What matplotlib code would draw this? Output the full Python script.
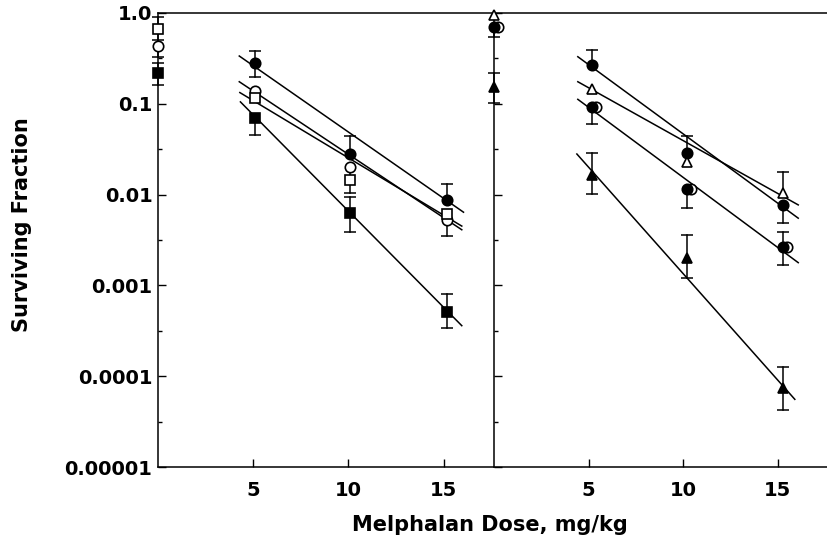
# Surviving fraction vs melphalan dose, two panels
import numpy as np
import matplotlib.pyplot as plt
from matplotlib.ticker import FixedLocator, NullFormatter
import matplotlib.transforms as mtransforms

plt.rcParams['font.family'] = ['DejaVu Sans']
plt.rcParams['font.weight'] = 'bold'

# ---- data ----
ctrl_dose = [0]
dose_left = [5.1, 10.1, 15.2]
dose_right = [5.2, 10.2, 15.3]

# left panel
l_fc = [0.279, 0.028, 0.0087]
l_fc_hi = [0.384, 0.0446, 0.0131]
l_fc_lo = [0.196, None, None]

l_oc_ctrl = [0.43]
l_oc = [0.139, 0.0203, 0.0052]
l_oc_lo = [None, 0.0103, 0.0035]

l_os_ctrl = [0.66]
l_os = [0.115, 0.0145, 0.0061]

l_fs_ctrl = [0.22]
l_fs = [0.069, 0.0063, 0.00051]
l_fs_hi = [None, 0.0095, 0.0008]
l_fs_lo = [0.045, 0.0039, 0.00034]

ctrl_left_hi = [0.91, 0.28]   # open square, filled square
ctrl_left_lo = [0.50, 0.33, 0.16]   # open square, open circle, filled square

# left fitted lines (start / end)
fit_left_x = [[4.27, 16.05], [4.27, 15.96], [4.30, 15.96], [4.33, 15.96]]
fit_left_y = [[0.336, 0.0064], [0.175, 0.0041], [0.133, 0.0045], [0.105, 0.00036]]

# right panel
r_fc = [0.268, 0.029, 0.0077]
r_fc_hi = [0.391, 0.044, None]
r_fc_lo = [None, None, 0.0049]

r_ot_ctrl = [0.95]
r_ot = [0.144, 0.0227, 0.0105]
r_ot_hi = [None, None, 0.0179]

r_cc_ctrl = [0.71]
r_cc = [0.0915, 0.0114, 0.00267]
r_cc_hi = [None, None, 0.00385]
r_cc_lo = [0.06, 0.0071, 0.00168]

r_ft_ctrl = [0.152]
r_ft = [0.0164, 0.00199, 0.0000735]
r_ft_hi = [0.029, 0.0036, 0.000127]
r_ft_lo = [0.0102, 0.0012, 0.0000425]

ctrl_right_hi = [0.22]
ctrl_right_lo = [0.54, 0.103]

fit_right_x = [[4.43, 16.08], [4.43, 16.08], [4.43, 16.08], [4.38, 15.9]]
fit_right_y = [[0.33, 0.0055], [0.175, 0.0077], [0.112, 0.00178], [0.028, 0.0000556]]

y_ticks = [1.0, 0.1, 0.01, 0.001, 0.0001, 0.00001]
y_labels = ['1.0', '0.1', '0.01', '0.001', '0.0001', '0.00001']
y_minor = [0.316, 0.0316, 0.00316, 0.000316, 0.0000316]
x_ticks = [5, 10, 15]

fig = plt.figure(figsize=(8.27, 5.43), dpi=100)
ax1 = fig.add_axes([158 / 827, 1 - 467 / 543, 335 / 827, 454 / 543])
ax2 = fig.add_axes([494 / 827, 1 - 467 / 543, 333 / 827, 454 / 543])

LW = 1.1
MS = 7.5


def err(ax, xs, ys, other):
    # draw one side of each error bar, skipping the hidden ones
    for x, y, o in zip(xs, ys, other):
        if o is None:
            continue
        ax.plot([x, x], [y, o], color='black', lw=LW, zorder=2, clip_on=False)
        ax.plot([x], [o], marker='_', ms=9, mew=LW, color='black', zorder=2, clip_on=False)


def pts(ax, xs, ys, marker, filled, ms=MS, transform=None):
    kw = dict(marker=marker, ms=ms, ls='none', mec='black', mew=1.2,
              mfc='black' if filled else 'white', zorder=4, clip_on=False)
    if transform is not None:
        kw['transform'] = transform
    ax.plot(xs, ys, **kw)


for ax in (ax1, ax2):
    ax.set_yscale('log')
    ax.set_ylim(0.00001, 1.0)
    ax.set_xlim(0, 17.6)
    ax.set_xticks(x_ticks)
    ax.set_xticklabels([str(t) for t in x_ticks], fontsize=14, fontweight='bold')
    ax.yaxis.set_major_locator(FixedLocator(y_ticks))
    ax.yaxis.set_minor_locator(FixedLocator(y_minor))
    ax.yaxis.set_minor_formatter(NullFormatter())
    ax.tick_params(axis='both', which='major', direction='in', length=6, width=1.0, pad=10)
    ax.tick_params(axis='y', which='minor', direction='in', length=3, width=1.0)
    ax.tick_params(axis='x', which='minor', bottom=False)
    for s in ax.spines.values():
        s.set_linewidth(1.1)

ax1.set_yticklabels(y_labels, fontsize=14, fontweight='bold')
ax1.tick_params(axis='y', pad=4)
ax1.spines['right'].set_visible(False)
ax2.set_yticklabels([])
ax2.spines['right'].set_visible(False)

# ---- left panel ----
for xs, ys in zip(fit_left_x, fit_left_y):
    ax1.plot(xs, ys, color='black', lw=LW, zorder=3)

err(ax1, dose_left, l_fc, l_fc_hi)
err(ax1, dose_left, l_fc, l_fc_lo)
err(ax1, dose_left, l_oc, l_oc_lo)
err(ax1, dose_left, l_fs, l_fs_hi)
err(ax1, dose_left, l_fs, l_fs_lo)
err(ax1, ctrl_dose * 2, l_os_ctrl + l_fs_ctrl, ctrl_left_hi)
err(ax1, ctrl_dose * 3, l_os_ctrl + l_oc_ctrl + l_fs_ctrl, ctrl_left_lo)

pts(ax1, dose_left, l_fc, 'o', True)
pts(ax1, ctrl_dose + dose_left, l_oc_ctrl + l_oc, 'o', False)
pts(ax1, ctrl_dose + dose_left, l_os_ctrl + l_os, 's', False, ms=6.5)
pts(ax1, ctrl_dose + dose_left, l_fs_ctrl + l_fs, 's', True, ms=6.5)

# ---- right panel ----
for xs, ys in zip(fit_right_x, fit_right_y):
    ax2.plot(xs, ys, color='black', lw=LW, zorder=3)

err(ax2, dose_right, r_fc, r_fc_hi)
err(ax2, dose_right, r_fc, r_fc_lo)
err(ax2, dose_right, r_ot, r_ot_hi)
err(ax2, dose_right, r_cc, r_cc_hi)
err(ax2, dose_right, r_cc, r_cc_lo)
err(ax2, dose_right, r_ft, r_ft_hi)
err(ax2, dose_right, r_ft, r_ft_lo)
err(ax2, ctrl_dose, r_ft_ctrl, ctrl_right_hi)
err(ax2, ctrl_dose * 2, r_cc_ctrl + r_ft_ctrl, ctrl_right_lo)

shift = mtransforms.offset_copy(ax2.transData, fig=fig, x=4, y=0, units='dots')
pts(ax2, ctrl_dose + dose_right, r_cc_ctrl + r_cc, 'o', False, transform=shift)
pts(ax2, ctrl_dose + dose_right, r_cc_ctrl + r_cc, 'o', True)
pts(ax2, dose_right, r_fc, 'o', True)
pts(ax2, ctrl_dose + dose_right, r_ot_ctrl + r_ot, '^', False)
pts(ax2, ctrl_dose + dose_right, r_ft_ctrl + r_ft, '^', True)

fig.text(22 / 827, 1 - 225 / 543, 'Surviving Fraction', rotation=90,
         ha='center', va='center', fontsize=15, fontweight='bold')
fig.text(490 / 827, 1 - 525 / 543, 'Melphalan Dose, mg/kg',
         ha='center', va='center', fontsize=15, fontweight='bold')

fig.savefig('out.png', dpi=100)
